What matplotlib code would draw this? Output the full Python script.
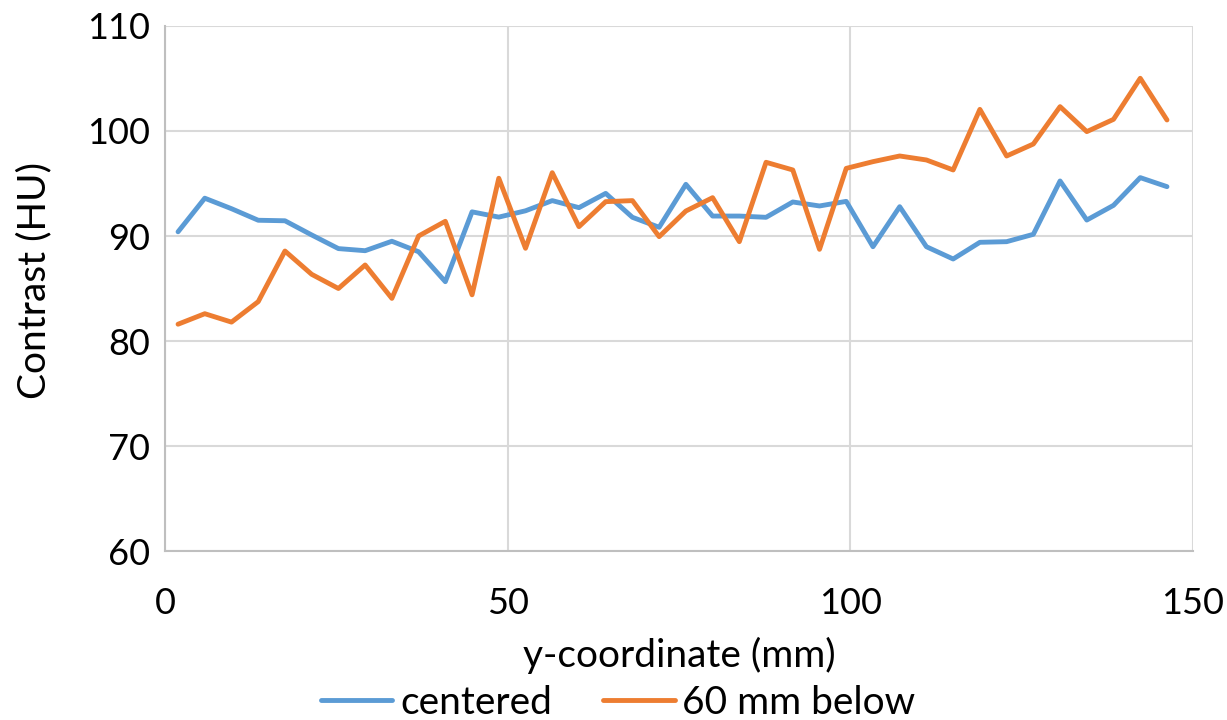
import matplotlib.pyplot as plt

plt.rcParams['font.family'] = ['Lato', 'DejaVu Sans']

# y-coordinate positions (mm)
y_coord = [1.9, 5.8, 9.7, 13.6, 17.5, 21.4, 25.3, 29.2, 33.1, 37.0,
           40.9, 44.8, 48.7, 52.6, 56.5, 60.4, 64.3, 68.2, 72.1, 76.0,
           79.9, 83.8, 87.7, 91.6, 95.5, 99.4, 103.3, 107.2, 111.1, 115.0,
           118.9, 122.8, 126.7, 130.6, 134.5, 138.4, 142.3, 146.2]

# contrast values (HU)
centered = [90.4, 93.6, 92.6, 91.5, 91.45, 90.1, 88.8, 88.6, 89.5, 88.5,
            85.65, 92.3, 91.8, 92.4, 93.37, 92.7, 94.06, 91.78, 90.83, 94.92,
            91.9, 91.9, 91.78, 93.24, 92.86, 93.3, 88.98, 92.79, 88.98, 87.81,
            89.4, 89.46, 90.16, 95.24, 91.52, 92.92, 95.56, 94.7]
below_60mm = [81.6, 82.6, 81.8, 83.75, 88.57, 86.35, 85.0, 87.24, 84.06, 90.0,
              91.4, 84.4, 95.5, 88.83, 96.03, 90.89, 93.27, 93.37, 89.94, 92.38,
              93.65, 89.46, 97.02, 96.29, 88.73, 96.44, 97.08, 97.62, 97.24, 96.29,
              102.06, 97.62, 98.76, 102.32, 99.94, 101.11, 105.02, 101.05]

fig = plt.figure(figsize=(12.27, 7.2), dpi=100)
ax = fig.add_axes([0.1345, 0.2347, 0.8378, 0.7292])

ax.plot(y_coord, centered, color='#5B9BD5', lw=3.5, label='centered',
        solid_joinstyle='round', solid_capstyle='round')
ax.plot(y_coord, below_60mm, color='#ED7D31', lw=3.5, label='60 mm below',
        solid_joinstyle='round', solid_capstyle='round')

ax.set_xlim(0, 150)
ax.set_ylim(60, 110)
ax.set_xticks([0, 50, 100, 150])
ax.set_yticks([60, 70, 80, 90, 100, 110])
ax.grid(True, color='#D9D9D9', lw=1.5)
ax.set_axisbelow(True)
for s in ['top', 'right']:
    ax.spines[s].set_visible(False)
for s in ['left', 'bottom']:
    ax.spines[s].set_color('#BFBFBF')
    ax.spines[s].set_linewidth(1.5)
ax.tick_params(length=0, labelsize=26)
ax.tick_params(axis='y', pad=11)
ax.tick_params(axis='x', pad=26)

ax.set_xlabel('y-coordinate (mm)', fontsize=28, va='center')
ax.xaxis.set_label_coords(0.5, -0.198)
ax.set_ylabel('Contrast (HU)', fontsize=28, va='center')
ax.yaxis.set_label_coords(-0.127, 0.516)

fig.legend(*ax.get_legend_handles_labels(), loc='center',
           bbox_to_anchor=(618 / 1227, 1 - 703 / 720), ncol=2, frameon=False,
           fontsize=28, handlelength=1.85, columnspacing=1.3, handletextpad=0.2,
           borderaxespad=0, borderpad=0)

plt.savefig('out.png')
